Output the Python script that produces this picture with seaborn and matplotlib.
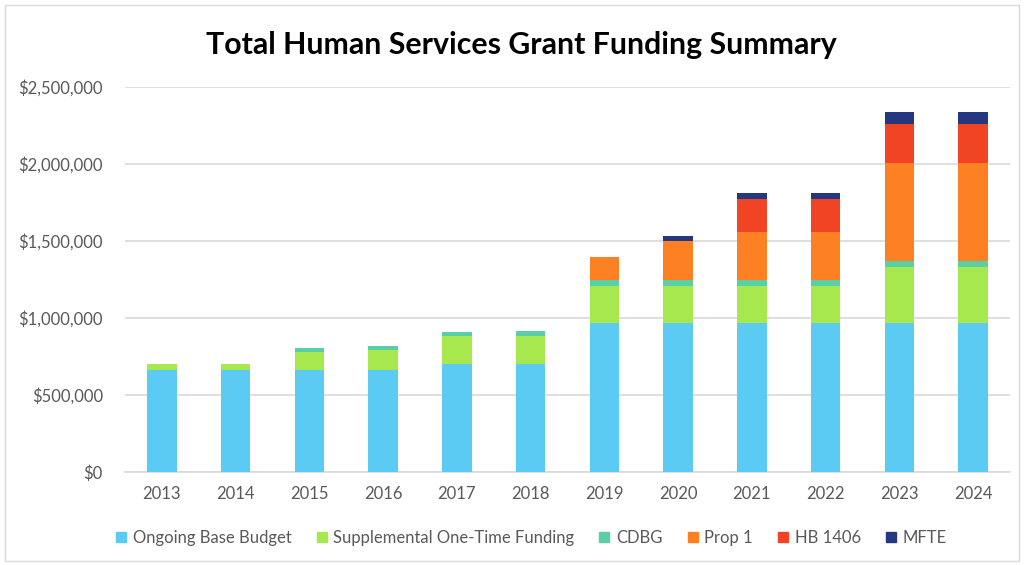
import matplotlib
matplotlib.use("Agg")
import matplotlib.pyplot as plt
import seaborn as sns
import numpy as np
import pandas as pd
from matplotlib.patches import Rectangle
from matplotlib.ticker import FuncFormatter

years = ["2013", "2014", "2015", "2016", "2017", "2018", "2019", "2020", "2021", "2022", "2023", "2024"]
ongoing_base = [660000, 660000, 660000, 660000, 704000, 704000, 970000, 970000, 970000, 970000, 970000, 970000]
supplemental = [42000, 42000, 118000, 131000, 176000, 176000, 240000, 240000, 240000, 240000, 361000, 361000]
cdbg = [0, 0, 24000, 30000, 26000, 33000, 34000, 34000, 34000, 34000, 37000, 37000]
prop1 = [0, 0, 0, 0, 0, 0, 150000, 253000, 317000, 317000, 636000, 636000]
hb1406 = [0, 0, 0, 0, 0, 0, 0, 0, 212000, 212000, 256000, 256000]
mfte = [0, 0, 0, 0, 0, 0, 0, 38000, 36000, 36000, 78000, 78000]

series_names = ["Ongoing Base Budget", "Supplemental One-Time Funding", "CDBG", "Prop 1", "HB 1406", "MFTE"]
series_values = [ongoing_base, supplemental, cdbg, prop1, hb1406, mfte]
colors = ["#5BCBF3", "#A6E84E", "#5ACFA6", "#FD8022", "#F04424", "#25377F"]

sns.set_theme(style="white")
plt.rcParams["font.family"] = ["Lato", "DejaVu Sans"]

fig = plt.figure(figsize=(10.26, 5.65), dpi=100)
ax = fig.add_axes([125 / 1026, 1 - 472 / 565, (1010 - 125) / 1026, (472 - 87) / 565])

bottom = np.zeros(len(years))
for name, vals, col in zip(series_names, series_values, colors):
    df = pd.DataFrame({"Year": years, "Value": vals})
    sns.barplot(data=df, x="Year", y="Value", color=col, bottom=bottom, width=0.4,
                ax=ax, saturation=1, linewidth=0, errorbar=None, zorder=3)
    bottom = bottom + np.array(vals)

ax.set_ylim(0, 2500000)
ax.set_xlim(-0.5, len(years) - 0.5)
ax.set_yticks(np.arange(0, 2500001, 500000))
ax.yaxis.set_major_formatter(FuncFormatter(lambda v, p: f"${v:,.0f}"))
ax.grid(axis="y", color="#D9D9D9", linewidth=1.2, zorder=0)
ax.set_axisbelow(True)
for s in ["top", "right", "left"]:
    ax.spines[s].set_visible(False)
ax.spines["bottom"].set_color("#D9D9D9")
ax.spines["bottom"].set_linewidth(1.2)
ax.set_xlabel("")
ax.set_ylabel("")
ax.tick_params(axis="both", length=0, labelsize=12, labelcolor="#595959")
ax.tick_params(axis="x", pad=10)
ax.tick_params(axis="y", pad=16)

fig.text(0.508, 1 - 45 / 565, "Total Human Services Grant Funding Summary", ha="center", va="center",
         fontsize=21.8, fontweight="bold", color="#000000")

handles = [Rectangle((0, 0), 1, 1, color=c) for c in colors]
fig.legend(handles, series_names, loc="center", bbox_to_anchor=(0.518, 1 - 538 / 565), ncol=6,
           frameon=False, fontsize=12, handlelength=0.6, handleheight=0.6, handletextpad=0.4,
           columnspacing=1.5, labelcolor="#595959")

fig.patches.append(Rectangle((5 / 1026, 4 / 565), 1014 / 1026, 556 / 565, transform=fig.transFigure,
                             fill=False, edgecolor="#D9D9D9", linewidth=1))

fig.savefig("out.png", dpi=100)
